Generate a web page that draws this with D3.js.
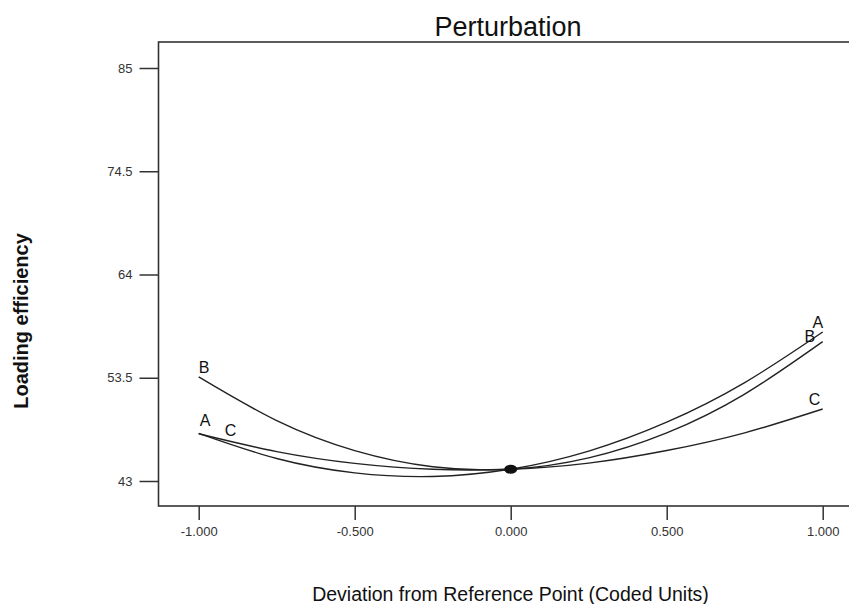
<!DOCTYPE html>
<html>
<head>
<meta charset="utf-8">
<script src="https://cdn.jsdelivr.net/npm/d3@7"></script>
<style>
  body { margin: 0; background: white; }
  text { font-family: "Liberation Sans", Arial, sans-serif; }
</style>
</head>
<body>
<div id="chart"></div>
<script>
const xCoded = [-1, -0.75, -0.5, -0.25, 0, 0.25, 0.5, 0.75, 1];

// Loading efficiency for each factor
const seriesA = [47.85, 45.29, 43.83, 43.46, 44.2, 46.04, 48.98, 53.01, 58.15];
const seriesB = [53.58, 49.14, 46.09, 44.45, 44.2, 45.35, 47.89, 51.84, 57.17];
const seriesC = [47.8, 45.99, 44.79, 44.19, 44.2, 44.82, 46.1, 47.9, 50.32];

const seriesNames = ["A", "B", "C"];

const yTicks = [43, 53.5, 64, 74.5, 85];
const xTicks = [-1, -0.5, 0, 0.5, 1];

// reference point (coded 0)
const refPoint = [0, 44.2];

let width = 849, height = 604;

let margin = {
  top: 42,
  bottom: 98,
  left: 158.5,
  right: -10
}

let svg = d3.select('#chart')
  .append('svg')
  .attr('width', width)
  .attr('height', height)
  .style('background', 'white')

let xScale = d3.scaleLinear()
  .domain([-1, 1])
  .range([198.7, 822.7])

let yScale = d3.scaleLinear()
  .domain([43, 85])
  .range([481, 68])

// frame (right side is cut off in the original)
svg.append('rect')
  .attr('x', margin.left)
  .attr('y', margin.top)
  .attr('width', width - margin.right - margin.left)
  .attr('height', height - margin.bottom - margin.top)
  .attr('fill', 'none')
  .attr('stroke', '#333')
  .attr('stroke-width', 1.6)

// y axis
let yaxis = svg.append('g')
  .attr('transform', `translate(${margin.left},0)`)
  .call(d3.axisLeft(yScale).tickValues(yTicks).tickSize(19).tickPadding(7).tickFormat(d => String(d)))
yaxis.select('.domain').remove()
yaxis.selectAll('line').attr('stroke', '#333').attr('stroke-width', 1.5)
yaxis.selectAll('text')
  .attr('fill', '#333')
  .style('font-size', '13px')
  .style('font-family', '"Liberation Sans", Arial, sans-serif')

// x axis
let xaxis = svg.append('g')
  .attr('transform', `translate(0,${height - margin.bottom})`)
  .call(d3.axisBottom(xScale).tickValues(xTicks).tickSize(14).tickPadding(7).tickFormat(d => d.toFixed(3)))
xaxis.select('.domain').remove()
xaxis.selectAll('line').attr('stroke', '#333').attr('stroke-width', 1.5)
xaxis.selectAll('text')
  .attr('fill', '#333')
  .style('font-size', '13px')
  .style('font-family', '"Liberation Sans", Arial, sans-serif')

// title
svg.append('text')
  .text('Perturbation')
  .attr('x', 508)
  .attr('y', 36)
  .attr('text-anchor', 'middle')
  .attr('fill', '#111')
  .style('font-size', '27px')

// x-axis label
svg.append('text')
  .text('Deviation from Reference Point (Coded Units)')
  .attr('x', 510.5)
  .attr('y', 601)
  .attr('text-anchor', 'middle')
  .attr('fill', '#111')
  .style('font-size', '19.5px')

// y-axis label
svg.append('text')
  .text('Loading efficiency')
  .attr('transform', 'translate(28,321) rotate(-90)')
  .attr('text-anchor', 'middle')
  .attr('fill', '#111')
  .style('font-size', '20px')
  .style('font-weight', 'bold')

// curves
const line = d3.line()
  .x(d => xScale(d[0]))
  .y(d => yScale(d[1]))
  .curve(d3.curveNatural);

const allSeries = [seriesA, seriesB, seriesC];

allSeries.forEach((values, i) => {
  svg.append('path')
    .datum(xCoded.map((x, j) => [x, values[j]]))
    .attr('d', line)
    .attr('fill', 'none')
    .attr('stroke', '#222')
    .attr('stroke-width', 1.4);
});

// curve end labels: [series index, which end, dx, dy, anchor]
const labelSpots = [
  [0, 0, 1, -7, 'start'],
  [1, 0, 0, -4, 'start'],
  [2, 0, 26, 2, 'start'],
  [0, 1, 0.5, -4.5, 'end'],
  [1, 1, -7.5, 0, 'end'],
  [2, 1, -2.5, -4, 'end']
];

labelSpots.forEach(s => {
  const values = allSeries[s[0]];
  const j = s[1] === 0 ? 0 : xCoded.length - 1;
  svg.append('text')
    .text(seriesNames[s[0]])
    .attr('x', xScale(xCoded[j]) + s[2])
    .attr('y', yScale(values[j]) + s[3])
    .attr('text-anchor', s[4])
    .attr('fill', '#111')
    .style('font-size', '16px')
});

// reference point marker
svg.append('ellipse')
  .attr('cx', xScale(refPoint[0]))
  .attr('cy', yScale(refPoint[1]))
  .attr('rx', 6.5)
  .attr('ry', 4.5)
  .attr('fill', '#111')
</script>
</body>
</html>
